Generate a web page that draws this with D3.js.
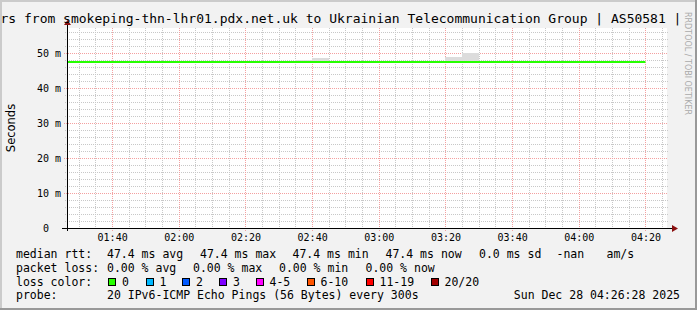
<!DOCTYPE html>
<html>
<head>
<meta charset="utf-8">
<title>Smokeping</title>
<script src="https://cdn.jsdelivr.net/npm/d3@7"></script>
<style>
body { margin: 0; background: #f2f2f2; }
svg text { font-family: "DejaVu Sans Mono", monospace; white-space: pre; fill: #000; }
</style>
</head>
<body>
<script>
// --- data ---
var day = "2025-12-28 ";
var startTime = "01:26:28", endTime = "04:26:28";

// 5 minute bins (bin end times)
var binEnds = ["01:30","01:35","01:40","01:45","01:50","01:55","02:00","02:05","02:10","02:15",
               "02:20","02:25","02:30","02:35","02:40","02:45","02:50","02:55","03:00","03:05",
               "03:10","03:15","03:20","03:25","03:30","03:35","03:40","03:45","03:50","03:55",
               "04:00","04:05","04:10","04:15","04:20"];
var medianRtt = [47.4,47.4,47.4,47.4,47.4,47.4,47.4,47.4,47.4,47.4,
                 47.4,47.4,47.4,47.4,47.4,47.4,47.4,47.4,47.4,47.4,
                 47.4,47.4,47.4,47.4,47.4,47.4,47.4,47.4,47.4,47.4,
                 47.4,47.4,47.4,47.4,47.4];
var smokeMax  = [47.4,47.4,47.4,47.4,47.4,47.4,47.4,47.4,47.4,47.4,
                 47.4,47.4,47.4,47.4,48.0,48.7,47.4,47.4,47.4,47.4,
                 47.4,47.4,47.4,48.8,50.0,47.4,47.4,47.4,47.4,47.4,
                 47.4,47.4,47.4,47.4,47.4];
var yMax = 57.14;
var yTicks = [0, 10, 20, 30, 40, 50];
var xTicks = ["01:40","02:00","02:20","02:40","03:00","03:20","03:40","04:00","04:20"];

var title = "rs from smokeping-thn-lhr01.pdx.net.uk to Ukrainian Telecommunication Group | AS50581 |";
var rttLabels = ["median rtt:", "47.4 ms avg", "47.4 ms max", "47.4 ms min", "47.4 ms now", "0.0 ms sd", "-nan", "am/s"];
var lossLabels = ["packet loss:", "0.00 % avg", "0.00 % max", "0.00 % min", "0.00 % now"];
var lossBins = ["0", "1", "2", "3", "4-5", "6-10", "11-19", "20/20"];
var lossColors = ["#26ff00", "#00b8ff", "#0059ff", "#7e00ff", "#ff00ff", "#ff5500", "#ff0000", "#a10000"];
var probeLabels = ["probe:", "20 IPv6-ICMP Echo Pings (56 Bytes) every 300s"];
var stamp = "Sun Dec 28 04:26:28 2025";

// --- layout ---
var W = 697, H = 310;
var pL = 67, pR = 667, pT = 28, pB = 228;

var parse = d3.timeParse("%Y-%m-%d %H:%M:%S");
var parseHM = function(s) { return parse(day + s + ":00"); };

var svg = d3.select("body").append("svg")
    .attr("width", W).attr("height", H);

svg.append("rect").attr("width", W).attr("height", H).attr("fill", "#f2f2f2");
// 3d frame
svg.append("rect").attr("x", 0).attr("y", 0).attr("width", W).attr("height", 2).attr("fill", "#cbcbcb");
svg.append("rect").attr("x", 0).attr("y", 0).attr("width", 2).attr("height", H).attr("fill", "#cbcbcb");
svg.append("rect").attr("x", 0).attr("y", H - 2).attr("width", W).attr("height", 2).attr("fill", "#999");
svg.append("rect").attr("x", W - 2).attr("y", 0).attr("width", 2).attr("height", H).attr("fill", "#999");

var x = d3.scaleTime()
    .domain([parse(day + startTime), parse(day + endTime)])
    .range([pL, pR]);
var y = d3.scaleLinear().domain([0, yMax]).range([pB, pT]);

svg.append("rect").attr("x", pL).attr("y", pT)
    .attr("width", pR - pL).attr("height", pB - pT).attr("fill", "#fff");

// grid
var minorX = d3.timeMinute.every(5).range(x.domain()[0], x.domain()[1]);
var majorX = xTicks.map(parseHM);
var minorY = d3.range(2, yMax, 2).filter(function(v) { return v % 10 != 0; });

var grid = svg.append("g").attr("shape-rendering", "crispEdges");
grid.selectAll(".mx").data(minorX).enter().append("line")
    .attr("x1", function(d) { return Math.round(x(d)) + 0.5; })
    .attr("x2", function(d) { return Math.round(x(d)) + 0.5; })
    .attr("y1", pT).attr("y2", pB + 2)
    .attr("stroke", "#c8c8c8").attr("stroke-dasharray", "1,1");
grid.selectAll(".my").data(minorY).enter().append("line")
    .attr("x1", pL - 2).attr("x2", pR + 1)
    .attr("y1", function(d) { return Math.round(y(d)) + 0.5; })
    .attr("y2", function(d) { return Math.round(y(d)) + 0.5; })
    .attr("stroke", "#c8c8c8").attr("stroke-dasharray", "1,1");
grid.selectAll(".Mx").data(majorX).enter().append("line")
    .attr("x1", function(d) { return Math.round(x(d)) + 0.5; })
    .attr("x2", function(d) { return Math.round(x(d)) + 0.5; })
    .attr("y1", pT).attr("y2", pB + 3)
    .attr("stroke", "#f4a0a0").attr("stroke-dasharray", "1,1");
grid.selectAll(".My").data(yTicks.slice(1)).enter().append("line")
    .attr("x1", pL - 3).attr("x2", pR + 1)
    .attr("y1", function(d) { return Math.round(y(d)) + 0.5; })
    .attr("y2", function(d) { return Math.round(y(d)) + 0.5; })
    .attr("stroke", "#f4a0a0").attr("stroke-dasharray", "1,1");

// smoke
var bins = binEnds.map(function(t, i) {
    var end = parseHM(t);
    return { start: d3.timeMinute.offset(end, -5), end: end, med: medianRtt[i], max: smokeMax[i] };
});

svg.append("clipPath").attr("id", "plot").append("rect")
    .attr("x", pL).attr("y", pT).attr("width", pR - pL).attr("height", pB - pT);

var plot = svg.append("g").attr("clip-path", "url(#plot)");
plot.selectAll(".smoke").data(bins.filter(function(b) { return b.max > b.med; })).enter().append("rect")
    .attr("x", function(b) { return x(b.start); })
    .attr("width", function(b) { return x(b.end) - x(b.start); })
    .attr("y", function(b) { return y(b.max); })
    .attr("height", function(b) { return y(b.med) - y(b.max); })
    .attr("fill", "#dcdcdc")
    .attr("shape-rendering", "crispEdges");

// median line
var pts = [{ t: bins[0].start, v: bins[0].med }].concat(bins.map(function(b) { return { t: b.end, v: b.med }; }));
plot.append("path")
    .datum(pts)
    .attr("d", d3.line().x(function(d) { return x(d.t); }).y(function(d) { return y(d.v); }).curve(d3.curveStepBefore))
    .attr("fill", "none")
    .attr("stroke", lossColors[0])
    .attr("stroke-width", 2);

// axes
var xAxis = d3.axisBottom(x).tickValues(majorX).tickFormat(d3.timeFormat("%H:%M")).tickSize(0).tickPadding(6);
var gx = svg.append("g").attr("transform", "translate(0," + pB + ")").call(xAxis);
gx.select(".domain").remove();
gx.selectAll("text").attr("font-size", "10px").style("font-family", "DejaVu Sans Mono");

var yAxis = d3.axisLeft(y).tickValues(yTicks).tickSize(0).tickPadding(6)
    .tickFormat(function(d) { return d == 0 ? "0  " : d + " m"; });
var gy = svg.append("g").attr("transform", "translate(" + pL + ",0)").call(yAxis);
gy.select(".domain").remove();
gy.selectAll("text").attr("font-size", "10px").style("font-family", "DejaVu Sans Mono");

svg.append("line").attr("x1", pL - 5).attr("x2", pR + 6)
    .attr("y1", pB + 0.5).attr("y2", pB + 0.5).attr("stroke", "#000")
    .attr("shape-rendering", "crispEdges");
svg.append("line").attr("x1", pL + 0.5).attr("x2", pL + 0.5)
    .attr("y1", pB + 3).attr("y2", pT - 5).attr("stroke", "#000")
    .attr("shape-rendering", "crispEdges");
svg.append("path").attr("d", "M" + (pR + 5) + "," + (pB - 3) + "L" + (pR + 11) + "," + (pB + 0.5) + "L" + (pR + 5) + "," + (pB + 4) + "Z")
    .attr("fill", "#8b1010");
svg.append("path").attr("d", "M" + (pL - 3) + "," + (pT - 3) + "L" + (pL + 0.5) + "," + (pT - 8) + "L" + (pL + 4) + "," + (pT - 3) + "Z")
    .attr("fill", "#8b1010");

// titles
svg.append("text").attr("x", 0.5).attr("y", 23).attr("font-size", "13px").text(title);
svg.append("text")
    .attr("transform", "translate(15,128) rotate(-90)")
    .attr("text-anchor", "middle")
    .attr("font-size", "11.5px")
    .style("font-family", "'DejaVu Sans', sans-serif")
    .text("Seconds");
svg.append("text")
    .attr("transform", "translate(685,12) rotate(90)")
    .attr("font-size", "8px")
    .style("font-family", "'DejaVu Sans', sans-serif")
    .style("fill", "#aaa")
    .text("RRDTOOL / TOBI OETIKER");

// legend
var lg = svg.append("g").attr("font-size", "11.5px");
var rowY = [258, 272, 285.5, 299];
var rttX = [16, 107, 200, 292.5, 385.5, 479, 556.5, 606.5];
var lossX = [16, 107, 193, 279, 365.5];
rttLabels.forEach(function(t, i) { lg.append("text").attr("x", rttX[i]).attr("y", rowY[0]).text(t); });
lossLabels.forEach(function(t, i) { lg.append("text").attr("x", lossX[i]).attr("y", rowY[1]).text(t); });

lg.append("text").attr("x", 16).attr("y", rowY[2]).text("loss color:");
var boxX = [108, 145.5, 182, 219, 255.5, 306.5, 365.5, 430.5];
lossBins.forEach(function(b, i) {
    lg.append("rect").attr("x", boxX[i] + 0.5).attr("y", 278.5).attr("width", 7).attr("height", 7)
        .attr("fill", lossColors[i]).attr("stroke", "#000").attr("shape-rendering", "crispEdges");
    lg.append("text").attr("x", boxX[i] + 14).attr("y", rowY[2]).text(b);
});

lg.append("text").attr("x", 16).attr("y", rowY[3]).text(probeLabels[0]);
lg.append("text").attr("x", 107).attr("y", rowY[3]).text(probeLabels[1]);
lg.append("text").attr("x", 680).attr("y", rowY[3]).attr("text-anchor", "end").text(stamp);
</script>
</body>
</html>
